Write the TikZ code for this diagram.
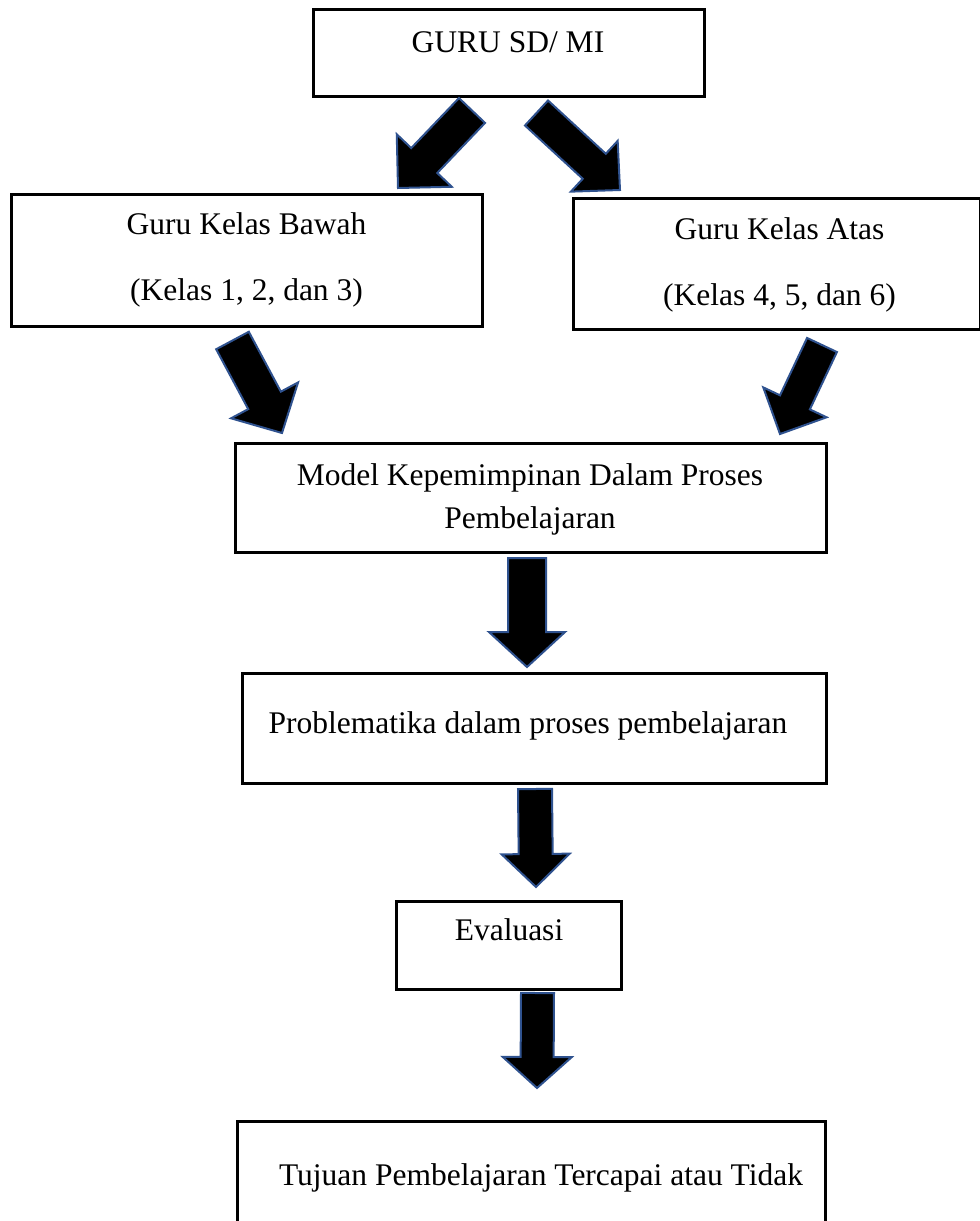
\documentclass[tikz,border=0pt]{standalone}
\usepackage{fontspec}
\setmainfont{Liberation Serif}
\usetikzlibrary{calc}
\definecolor{arrowblue}{RGB}{47,82,143}
\tikzset{
  box/.style={draw=black, line width=3pt, fill=white},
  label/.style={anchor=base, inner sep=0pt, font=\fontsize{31.5}{40}\selectfont},
  barrow/.style={fill=black, draw=arrowblue, line width=2pt, line join=miter},
}
\newcommand\blockarrow[5]{%
  \coordinate (ba-B) at ($(#2)!#5!(#1)$);
  \filldraw[barrow] ($(#1)!#3!90:(#2)$) -- ($(ba-B)!#3!90:(#2)$) -- ($(ba-B)!#4!90:(#2)$)
    -- (#2) -- ($(ba-B)!#4!-90:(#2)$) -- ($(ba-B)!#3!-90:(#2)$) -- ($(#1)!#3!-90:(#2)$) -- cycle;
}
\begin{document}
\begin{tikzpicture}[x=1pt,y=-1pt]
\useasboundingbox (0,0) rectangle (980,1221);
\clip (0,0) rectangle (980,1221);
\fill[white] (0,0) rectangle (980,1221);

% boxes
\draw[box] (313,9) rectangle (704,96) node[pos=0.5] (guru) {};
\draw[box] (11,194) rectangle (482,326) node[pos=0.5] (bawah) {};
\draw[box] (573,198) rectangle (980,329) node[pos=0.5] (atas) {};
\draw[box] (235,443) rectangle (826,552) node[pos=0.5] (model) {};
\draw[box] (242,673) rectangle (826,783) node[pos=0.5] (prob) {};
\draw[box] (396,901) rectangle (621,989) node[pos=0.5] (eval) {};
\draw[box] (237,1121) rectangle (825,1240) node[pos=0.5] (tujuan) {};

% texts
\node[label] (t-guru) at (508,52) {GURU SD/ MI};
\node[label] (t-bawah1) at (246.5,234) {Guru Kelas Bawah};
\node[label] (t-bawah2) at (246.5,300) {(Kelas 1, 2, dan 3)};
\node[label] (t-atas1) at (779.5,239) {Guru Kelas Atas};
\node[label] (t-atas2) at (779.5,305) {(Kelas 4, 5, dan 6)};
\node[label] (t-model1) at (530,485) {Model Kepemimpinan Dalam Proses};
\node[label] (t-model2) at (530,528) {Pembelajaran};
\node[label] (t-prob) at (528,733) {Problematika dalam proses pembelajaran};
\node[label] (t-eval) at (509,940) {Evaluasi};
\node[label] (t-tujuan) at (541,1185) {Tujuan Pembelajaran Tercapai atau Tidak};

% arrow end points
\coordinate (a1s) at (472,110.5);   \coordinate (a1e) at (398,188);
\coordinate (a2s) at (536.5,113);   \coordinate (a2e) at (620,190);
\coordinate (a3s) at (232.5,340.5); \coordinate (a3e) at (282,433);
\coordinate (a4s) at (822,345);     \coordinate (a4e) at (780,434);
\coordinate (a5s) at (527,558);     \coordinate (a5e) at (527,667);
\coordinate (a6s) at (535,789);     \coordinate (a6e) at (536,887);
\coordinate (a7s) at (537.5,993);   \coordinate (a7e) at (537,1088);

\blockarrow{a1s}{a1e}{18pt}{38pt}{38pt}
\blockarrow{a2s}{a2e}{17pt}{34.5pt}{35pt}
\blockarrow{a3s}{a3e}{18.5pt}{38pt}{37pt}
\blockarrow{a4s}{a4e}{16.5pt}{35pt}{35pt}
\blockarrow{a5s}{a5e}{19pt}{38pt}{35pt}
\blockarrow{a6s}{a6e}{17pt}{34pt}{33pt}
\blockarrow{a7s}{a7e}{16.5pt}{34.5pt}{31pt}
\end{tikzpicture}
\end{document}
